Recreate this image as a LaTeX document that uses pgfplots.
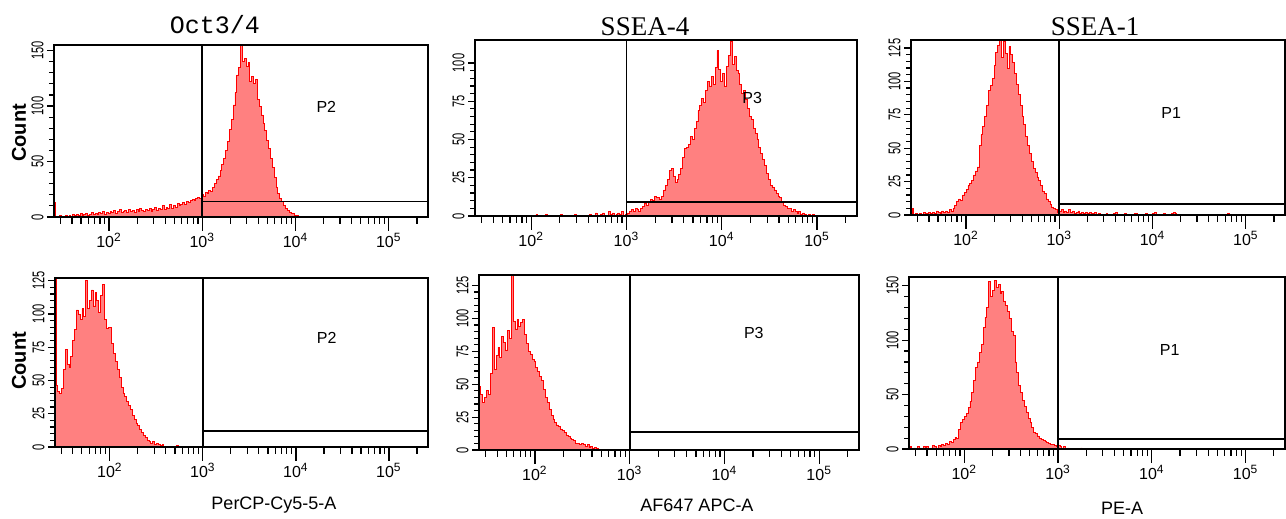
\documentclass[border=0pt]{standalone}
\usepackage{graphicx}
\usepackage{fontspec}
\setmainfont{Liberation Sans}
\newfontfamily\titleserif{Liberation Serif}
\newfontfamily\titlemono{Liberation Mono}
\usepackage{pgfplots}
\pgfplotsset{compat=1.18}
\definecolor{histfill}{RGB}{255,128,128}
\definecolor{histline}{RGB}{255,0,0}

\pgfplotsset{
  facs/.style={
    scale only axis, anchor=south west, axis on top,
    xmin=1.41, xmax=5.42, ymin=0,
    axis line style={line width=0.8pt},
    tick style={black, line width=0.6pt},
    major tick length=3.5pt, minor tick length=2.5pt,
    tick align=outside, xtick pos=bottom, ytick pos=left,
    xtick={1.477,1.602,1.699,1.778,1.845,1.903,1.954,
           2.301,2.477,2.602,2.699,2.778,2.845,2.903,2.954,
           3.301,3.477,3.602,3.699,3.778,3.845,3.903,3.954,
           4.301,4.477,4.602,4.699,4.778,4.845,4.903,4.954,5.301},
    xticklabel={\mbox{}},
    extra x ticks={2,3,4,5},
    extra x tick labels={10\textsuperscript{2},10\textsuperscript{3},10\textsuperscript{4},10\textsuperscript{5}},
    extra x tick style={major tick length=7pt,
      tick label style={font=\fontsize{8}{9}\selectfont, inner sep=1pt}},
    minor y tick num=4,
    /pgf/number format/assume math mode=true,
    yticklabel={\scalebox{0.65}[1]{\pgfmathprintnumber{\tick}}},
    yticklabel style={rotate=90, anchor=south, font=\fontsize{8.5}{9}\selectfont, inner sep=1.5pt},
  },
  hist/.style={const plot, draw=histline, line width=0.4pt, fill=histfill},
  gate/.style={black, line width=0.9pt},
}

\begin{document}
\begin{tikzpicture}
\useasboundingbox (0,0) rectangle (643pt,259.5pt);

% ---------- top left: Oct3/4 ----------
\begin{axis}[facs, at={(27pt,151pt)}, width=187pt, height=86pt,
  ymax=155, ytick={0,50,100,150}]
\addplot[hist] coordinates {
(1.41,13) (1.43,0) (1.45,0) (1.47,1) (1.49,0) (1.51,0) (1.53,1) (1.55,0) (1.57,1) (1.59,0)
(1.61,2) (1.63,1) (1.65,2) (1.67,1) (1.69,3) (1.71,1) (1.73,2) (1.75,3) (1.77,1) (1.79,2)
(1.81,4) (1.83,2) (1.85,3) (1.87,2) (1.89,4) (1.91,3) (1.93,5) (1.95,2) (1.97,4) (1.99,3)
(2.01,5) (2.03,4) (2.05,6) (2.07,3) (2.09,5) (2.11,7) (2.13,4) (2.15,5) (2.17,6) (2.19,4)
(2.21,7) (2.23,5) (2.25,6) (2.27,4) (2.29,7) (2.31,5) (2.33,8) (2.35,6) (2.37,5) (2.39,7)
(2.41,6) (2.43,8) (2.45,5) (2.47,7) (2.49,9) (2.51,6) (2.53,8) (2.55,7) (2.57,10) (2.59,7)
(2.61,9) (2.63,8) (2.65,11) (2.67,8) (2.69,10) (2.71,9) (2.73,12) (2.75,10) (2.77,11) (2.79,13)
(2.81,11) (2.83,14) (2.85,13) (2.87,15) (2.89,16) (2.91,15) (2.93,17) (2.95,18) (2.97,17) (2.99,20)
(3.01,19) (3.03,22) (3.05,21) (3.07,24) (3.09,23) (3.11,27) (3.13,30) (3.15,34) (3.17,37) (3.19,42)
(3.21,47) (3.23,53) (3.25,60) (3.27,68) (3.29,79) (3.31,88) (3.33,101) (3.35,112) (3.37,128) (3.39,135)
(3.41,155) (3.43,140) (3.45,143) (3.47,136) (3.49,139) (3.51,122) (3.53,127) (3.55,120) (3.57,124) (3.59,106)
(3.61,100) (3.63,92) (3.65,84) (3.67,78) (3.69,69) (3.71,62) (3.73,53) (3.75,45) (3.77,36) (3.79,27)
(3.81,21) (3.83,17) (3.85,14) (3.87,10) (3.89,8) (3.91,6) (3.93,4) (3.95,3) (3.97,3) (3.99,1)
(4.01,1) (4.03,0)
} \closedcycle;
\addplot[gate] coordinates {(3,0) (3,155)};
\addplot[gate] coordinates {(3,14) (5.42,14)};
\node[font=\fontsize{8}{9}\selectfont] at (axis cs:4.33,99) {P2};
\end{axis}

% ---------- top middle: SSEA-4 ----------
\begin{axis}[facs, at={(237.5pt,151.5pt)}, width=191pt, height=88pt,
  ymax=115, ytick={0,25,50,75,100}]
\addplot[hist] coordinates {
(2.05,1) (2.07,0) (2.15,1) (2.17,0) (2.31,1) (2.33,0) (2.45,1) (2.47,0) (2.61,1) (2.63,0)
(2.67,2) (2.69,0) (2.73,1) (2.75,2) (2.77,0) (2.81,3) (2.83,1) (2.85,2) (2.87,0) (2.89,1)
(2.91,2) (2.93,1) (2.95,3) (2.97,0) (2.99,1)
(3.01,2) (3.03,3) (3.05,4) (3.07,3) (3.09,5) (3.11,4) (3.13,3) (3.15,5) (3.17,6) (3.19,8)
(3.21,7) (3.23,9) (3.25,11) (3.27,10) (3.29,13) (3.31,12) (3.33,12) (3.35,11) (3.37,13) (3.39,17)
(3.41,20) (3.43,24) (3.45,30) (3.47,31) (3.49,26) (3.51,22) (3.53,24) (3.55,27) (3.57,31) (3.59,38)
(3.61,44) (3.63,45) (3.65,47) (3.67,52) (3.69,50) (3.71,57) (3.73,62) (3.75,69) (3.77,72) (3.79,77)
(3.81,74) (3.83,82) (3.85,88) (3.87,85) (3.89,91) (3.91,86) (3.93,97) (3.95,108) (3.97,96) (3.99,88)
(4.01,93) (4.03,85) (4.05,98) (4.07,105) (4.09,114) (4.11,99) (4.13,104) (4.15,95) (4.17,93) (4.19,86)
(4.21,80) (4.23,82) (4.25,76) (4.27,70) (4.29,65) (4.31,63) (4.33,57) (4.35,54) (4.37,50) (4.39,45)
(4.41,41) (4.43,37) (4.45,33) (4.47,28) (4.49,24) (4.51,20) (4.53,19) (4.55,17) (4.57,15) (4.59,13)
(4.61,12) (4.63,9) (4.65,7) (4.67,6) (4.69,5) (4.71,5) (4.73,3) (4.75,4) (4.77,3) (4.79,2)
(4.81,3) (4.83,1) (4.85,2) (4.87,1) (4.89,0) (4.91,1) (4.93,0) (4.95,1) (4.97,0)
} \closedcycle;
\addplot[gate] coordinates {(3,0) (3,115)};
\addplot[gate] coordinates {(3,9) (5.42,9)};
\node[font=\fontsize{8}{9}\selectfont] at (axis cs:4.32,77) {P3};
\end{axis}

% ---------- top right: SSEA-1 ----------
\begin{axis}[facs, at={(455.5pt,152pt)}, width=187pt, height=87.5pt,
  ymax=131, ytick={0,25,50,75,100,125}]
\addplot[hist] coordinates {
(1.42,5) (1.44,0) (1.46,1) (1.48,0) (1.50,1) (1.52,0) (1.54,2) (1.56,0) (1.58,1) (1.60,2)
(1.62,1) (1.64,2) (1.66,1) (1.68,3) (1.70,2) (1.72,1) (1.74,3) (1.76,2) (1.78,3) (1.80,2)
(1.82,4) (1.84,3) (1.86,5) (1.88,7) (1.90,10) (1.92,12) (1.94,11) (1.96,15) (1.98,17) (2.00,19)
(2.02,22) (2.04,24) (2.06,26) (2.08,30) (2.10,33) (2.12,36) (2.14,52) (2.16,60) (2.18,66) (2.20,74)
(2.22,82) (2.24,93) (2.26,97) (2.28,102) (2.30,112) (2.32,122) (2.34,127) (2.36,131) (2.38,118) (2.40,130)
(2.42,121) (2.44,110) (2.46,126) (2.48,120) (2.50,114) (2.52,106) (2.54,98) (2.56,90) (2.58,82) (2.60,74)
(2.62,68) (2.64,59) (2.66,52) (2.68,46) (2.70,40) (2.72,35) (2.74,32) (2.76,28) (2.78,26) (2.80,22)
(2.82,18) (2.84,16) (2.86,12) (2.88,10) (2.90,8) (2.92,6) (2.94,5) (2.96,4) (2.98,2) (3.00,3)
(3.02,4) (3.04,2) (3.06,3) (3.08,2) (3.10,4) (3.12,2) (3.14,3) (3.16,1) (3.18,2) (3.20,3)
(3.22,1) (3.24,2) (3.26,1) (3.28,2) (3.30,1) (3.32,2) (3.34,0) (3.36,1) (3.38,2) (3.40,0)
(3.42,1) (3.44,0) (3.50,1) (3.52,0) (3.58,1) (3.60,2) (3.62,0) (3.70,1) (3.72,0) (3.80,1)
(3.82,1) (3.84,0) (3.92,1) (3.94,0) (4.00,1) (4.02,2) (4.04,0) (4.12,1) (4.14,0) (4.20,1)
(4.22,2) (4.24,1) (4.26,0) (4.80,1) (4.82,0)
} \closedcycle;
\addplot[gate] coordinates {(3,0) (3,131)};
\addplot[gate] coordinates {(3,8) (5.42,8)};
\node[font=\fontsize{8}{9}\selectfont] at (axis cs:4.20,76) {P1};
\end{axis}

% ---------- bottom left ----------
\begin{axis}[facs, at={(27.5pt,36pt)}, width=186.5pt, height=84.5pt,
  ymax=127, ytick={0,25,50,75,100,125}]
\addplot[hist] coordinates {
(1.41,127) (1.42,46) (1.44,42) (1.46,40) (1.48,44) (1.50,58) (1.52,73) (1.54,62) (1.56,60) (1.58,68)
(1.60,80) (1.62,88) (1.64,103) (1.66,100) (1.68,96) (1.70,104) (1.72,98) (1.74,125) (1.76,104) (1.78,110)
(1.80,118) (1.82,106) (1.84,116) (1.86,110) (1.88,101) (1.90,114) (1.92,122) (1.94,96) (1.96,89) (1.98,90)
(2.00,90) (2.02,78) (2.04,70) (2.06,64) (2.08,58) (2.10,52) (2.12,45) (2.14,40) (2.16,38) (2.18,34)
(2.20,31) (2.22,28) (2.24,24) (2.26,21) (2.28,18) (2.30,16) (2.32,13) (2.34,11) (2.36,9) (2.38,7)
(2.40,5) (2.42,4) (2.44,3) (2.46,4) (2.48,2) (2.50,3) (2.52,2) (2.54,1) (2.56,2) (2.58,0)
(2.72,1) (2.74,0)
} \closedcycle;
\addplot[gate] coordinates {(3,0) (3,127)};
\addplot[gate] coordinates {(3,12) (5.42,12)};
\node[font=\fontsize{8}{9}\selectfont] at (axis cs:4.33,82) {P2};
\end{axis}

% ---------- bottom middle ----------
\begin{axis}[facs, at={(239.5pt,34.5pt)}, width=190pt, height=87.5pt,
  ymax=133, ytick={0,25,50,75,100,125}]
\addplot[hist] coordinates {
(1.41,48) (1.43,42) (1.45,36) (1.47,40) (1.49,45) (1.51,42) (1.53,58) (1.55,93) (1.57,61) (1.59,72)
(1.61,78) (1.63,70) (1.65,86) (1.67,82) (1.69,76) (1.71,91) (1.73,85) (1.75,133) (1.77,98) (1.79,92)
(1.81,99) (1.83,94) (1.85,97) (1.87,99) (1.89,88) (1.91,81) (1.93,75) (1.95,73) (1.97,69) (1.99,67)
(2.01,63) (2.03,60) (2.05,56) (2.07,53) (2.09,46) (2.11,40) (2.13,36) (2.15,31) (2.17,26) (2.19,23)
(2.21,21) (2.23,19) (2.25,18) (2.27,16) (2.29,15) (2.31,13) (2.33,11) (2.35,10) (2.37,9) (2.39,8)
(2.41,7) (2.43,5) (2.45,5) (2.47,4) (2.49,5) (2.51,4) (2.53,3) (2.55,4) (2.57,2) (2.59,3)
(2.61,1) (2.63,2) (2.65,1) (2.67,0)
} \closedcycle;
\addplot[gate] coordinates {(3,0) (3,133)};
\addplot[gate] coordinates {(3,13.4) (5.42,13.4)};
\node[font=\fontsize{8}{9}\selectfont] at (axis cs:4.31,89) {P3};
\end{axis}

% ---------- bottom right ----------
\begin{axis}[facs, at={(454.5pt,35pt)}, width=188pt, height=86pt,
  ymax=158, ytick={0,50,100,150}]
\addplot[hist] coordinates {
(1.42,2) (1.44,0) (1.46,1) (1.48,0) (1.50,2) (1.52,1) (1.54,0) (1.56,2) (1.58,1) (1.60,2)
(1.62,0) (1.64,1) (1.66,3) (1.68,2) (1.70,1) (1.72,3) (1.74,2) (1.76,4) (1.78,3) (1.80,5)
(1.82,4) (1.84,7) (1.86,6) (1.88,9) (1.90,11) (1.92,10) (1.94,18) (1.96,24) (1.98,27) (2.00,30)
(2.02,33) (2.04,38) (2.06,44) (2.08,52) (2.10,63) (2.12,75) (2.14,80) (2.16,89) (2.18,96) (2.20,112)
(2.22,121) (2.24,130) (2.26,154) (2.28,140) (2.30,146) (2.32,155) (2.34,148) (2.36,151) (2.38,143) (2.40,145)
(2.42,136) (2.44,132) (2.46,126) (2.48,120) (2.50,108) (2.52,104) (2.54,80) (2.56,70) (2.58,58) (2.60,52)
(2.62,45) (2.64,39) (2.66,34) (2.68,28) (2.70,24) (2.72,20) (2.74,15) (2.76,14) (2.78,12) (2.80,10)
(2.82,9) (2.84,8) (2.86,7) (2.88,6) (2.90,5) (2.92,4) (2.94,4) (2.96,3) (2.98,2) (3.00,3)
(3.02,2) (3.04,1) (3.06,2) (3.08,0) (3.10,1) (3.12,0) (3.24,1) (3.26,0)
} \closedcycle;
\addplot[gate] coordinates {(3,0) (3,158)};
\addplot[gate] coordinates {(3,9) (5.42,9)};
\node[font=\fontsize{8}{9}\selectfont] at (axis cs:4.19,91) {P1};
\end{axis}

% ---------- titles and labels ----------
\node[font=\titlemono\fontsize{12.5}{14}\selectfont] at (107.5pt,247pt) {Oct3/4};
\node[font=\titleserif\fontsize{13.5}{16}\selectfont] at (322.5pt,246pt) {SSEA-4};
\node[font=\titleserif\fontsize{13.5}{16}\selectfont] at (547.5pt,246pt) {SSEA-1};
\node[font=\bfseries\fontsize{10}{12}\selectfont, rotate=90] at (9.5pt,193pt) {Count};
\node[font=\bfseries\fontsize{10}{12}\selectfont, rotate=90] at (9.5pt,79pt) {Count};
\node[font=\fontsize{9}{10}\selectfont] at (137pt,7pt) {PerCP-Cy5-5-A};
\node[font=\fontsize{9}{10}\selectfont] at (348.5pt,7pt) {AF647 APC-A};
\node[font=\fontsize{9}{10}\selectfont] at (561pt,5.5pt) {PE-A};
\end{tikzpicture}
\end{document}
